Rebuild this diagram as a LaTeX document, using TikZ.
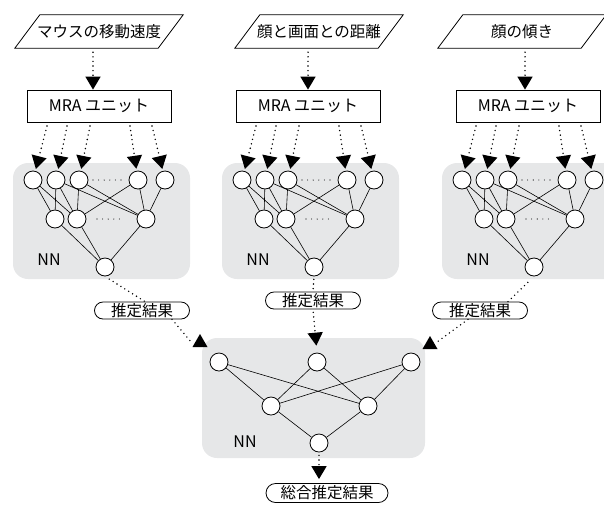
\documentclass[tikz,border=0pt]{standalone}
\usepackage{fontspec}
\setmainfont{Noto Sans CJK JP}
\usetikzlibrary{arrows.meta,calc}
\definecolor{nngray}{HTML}{E6E7E8}
\tikzset{
  neuron/.style={circle, draw, fill=white, minimum size=18pt, inner sep=0pt, line width=0.8pt},
  conn/.style={line width=0.6pt},
  dotline/.style={line width=1.6pt, dash pattern=on 0pt off 4.6pt, line cap=round},
  dotarrow/.style={dotline, -{Triangle[length=13pt,width=15pt]}},
  smalldots/.style={line width=1.1pt, dash pattern=on 0pt off 5.6pt, line cap=round},
  nnbox/.style={fill=nngray, rounded corners=15pt},
  nnlabel/.style={font=\fontsize{16}{16}\selectfont, inner sep=0pt},
  mrabox/.style={draw, line width=0.8pt, minimum width=144pt, minimum height=32pt, inner sep=0pt, font=\fontsize{16}{16}\selectfont},
  paratext/.style={minimum width=168pt, minimum height=33pt, inner sep=0pt, font=\fontsize{15.5}{15.5}\selectfont},
  paraline/.style={draw, line width=0.8pt},
  result/.style={draw, rounded corners=8.5pt, line width=0.8pt, minimum width=95pt, minimum height=17pt, inner sep=0pt, font=\fontsize{15.5}{15.5}\selectfont},
  tipfill/.style={fill=black}
}
\begin{document}
\begin{tikzpicture}[x=1pt,y=-1pt]
\useasboundingbox (0,0) rectangle (604,504);

\foreach \p/\ox/\px/\ax/\txt in {L/13/99/93/マウスの移動速度, M/222/319/308/顔と画面との距離, R/442/522/525/顔の傾き} {
  % input parallelogram
  \node[paratext] (\p-in) at (\px,31.5) {\txt};
  \draw[paraline] (\p-in.south west) -- ([xshift=25pt]\p-in.north west) -- (\p-in.north east) -- ([xshift=-25pt]\p-in.south east) -- cycle;
  \begin{scope}[shift={(\ox,0)}]
    \fill[nnbox] (0,163) rectangle (177,279);
    \node[nnlabel] (\p-nn) at (36,260) {NN};
    \node[mrabox] (\p-mra) at (86,106) {MRA ユニット};
    \node[neuron] (\p-i1) at (20,180) {};
    \node[neuron] (\p-i2) at (43,180) {};
    \node[neuron] (\p-i3) at (66,180) {};
    \node[neuron] (\p-i4) at (125,180) {};
    \node[neuron] (\p-i5) at (152,180) {};
    \node[neuron] (\p-h1) at (42,219) {};
    \node[neuron] (\p-h2) at (64,219) {};
    \node[neuron] (\p-h3) at (133,219) {};
    \node[neuron] (\p-o) at (92,267) {};
    \draw[smalldots] (80,180) -- (109,180);
    \draw[smalldots] (84,219) -- (111,219);
    \foreach \k/\sx in {1/34,2/54,3/77,4/117,5/139} {
      \coordinate (\p-s\k) at (\sx,126);
    }
  \end{scope}
  \coordinate (\p-ax) at (\ax,0);
  \draw[dotarrow, shorten <=4pt] (\p-in.south -| \p-ax) -- (\p-mra.north -| \p-ax);
  \foreach \k in {1,...,5} {
    \draw[dotarrow, shorten >=2pt] (\p-s\k) -- (\p-i\k);
  }
  \foreach \a/\b in {i1/h1,i1/h2,i2/h1,i2/h2,i2/h3,i3/h2,i3/h3,i4/h2,i4/h3,i5/h3,h1/o,h2/o,h3/o} {
    \draw[conn] (\p-\a) -- (\p-\b);
  }
}

% bottom network
\fill[nnbox] (202,338) rectangle (425,458);
\node[nnlabel] (B-nn) at (245,442) {NN};
\node[neuron] (B-i1) at (219,362) {};
\node[neuron] (B-i2) at (317,362) {};
\node[neuron] (B-i3) at (411,362) {};
\node[neuron] (B-h1) at (271,406) {};
\node[neuron] (B-h2) at (368,406) {};
\node[neuron] (B-o) at (319,443) {};
\foreach \a/\b in {i1/h1,i1/h2,i2/h1,i2/h2,i3/h1,i3/h2,h1/o,h2/o} {
  \draw[conn] (B-\a) -- (B-\b);
}

% result labels
\node[result] (L-res) at (142,310.5) {推定結果};
\node[result] (M-res) at (313,300.5) {推定結果};
\node[result] (R-res) at (480,310.5) {推定結果};
\node[result, minimum width=122pt, minimum height=19pt, rounded corners=9.5pt] (F-res) at (327,493) {総合推定結果};

% connectors
\draw[dotline, shorten <=5pt] (L-o.south) -- ([xshift=3pt]L-res.north);
\coordinate (L-end) at (192,343);
\coordinate (L-tip) at (200,334);
\draw[dotline] ([xshift=30pt]L-res.south) -- (L-end);
\fill[tipfill] (L-tip) -- ++(7.5,13) -- ++(-15,0) -- cycle;

\draw[dotline, shorten <=3pt] (M-o.south) -- (M-res.north);
\draw[dotarrow, shorten >=7pt, shorten <=3pt] (M-res.south) -- (B-i2.north);

\draw[dotline, shorten >=5pt] ([xshift=28pt]R-res.north) -- (R-o.south);
\coordinate (R-end) at (437,342);
\coordinate (R-tip) at (430,336);
\draw[dotline] ([xshift=-12pt]R-res.south) -- (R-end);
\fill[tipfill] (R-tip) -- ++(7.5,13) -- ++(-15,0) -- cycle;

\draw[dotarrow, shorten <=3pt, shorten >=4pt] (B-o.south) -- (B-o.south |- F-res.north);
\end{tikzpicture}
\end{document}
